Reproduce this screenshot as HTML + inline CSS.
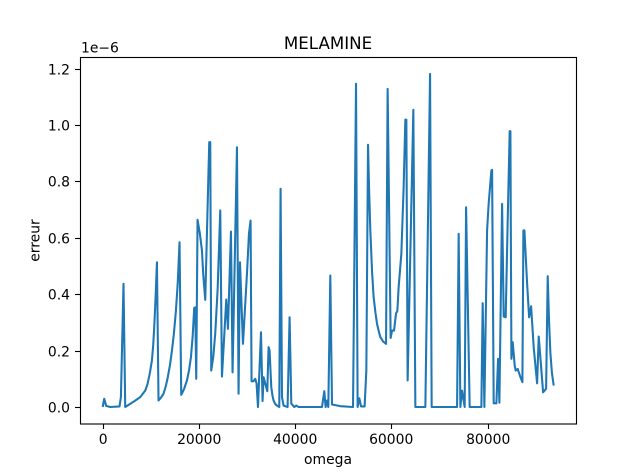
<!DOCTYPE html>
<html>
<head>
<meta charset="utf-8">
<style>
html,body{margin:0;padding:0;background:#fff;width:640px;height:476px;overflow:hidden}
svg{display:block}
text{font-family:"DejaVu Sans","Liberation Sans",sans-serif;fill:#000}
</style>
</head>
<body>
<svg id="chart" xmlns="http://www.w3.org/2000/svg" width="640" height="476" viewBox="0 0 640 476">
<rect x="0" y="0" width="640" height="476" fill="#fff"/>
<g id="ticks"></g>
<path id="line" fill="none" stroke="#1f77b4" stroke-width="2.08" stroke-linejoin="round" stroke-linecap="butt"/>
<rect x="80.5" y="57.5" width="496" height="366.5" fill="none" stroke="#000" stroke-width="1.11"/>
<text x="328" y="49" text-anchor="middle" style="font-size:16.67px">MELAMINE</text>
<text x="328" y="464" text-anchor="middle" style="font-size:13.9px">omega</text>
<text transform="translate(39.5,240.5) rotate(-90)" text-anchor="middle" style="font-size:13.9px">erreur</text>
<text x="81" y="52.5" style="font-size:13.9px">1e−6</text>
</svg>
<script>
var omega = [0,312,728,1560,3494,3786,4326,4680,
5500,6600,7800,8840,9300,9800,10234,10500,10712,11000,11274,
11606,12100,12646,13100,13478,14000,14394,14800,15226,15600,15974,
16328,16900,17514,17950,18346,18700,19032,19240,19448,19718,20200,20634,20900,21320,22152,22360,22568,23000,23400,23900,24440,24794,
25688,26042,26666,26998,27914,28246,28538,29162,29994,30410,30742,30950,31304,31720,31990,32282,32906,33238,33446,33800,34216,34486,34694,
35048,35300,35526,35900,36234,36712,
36982,37274,37606,38438,38854,39208,39832,40248,40726,45594,46072,46342,46634,46904,47320,47674,49400,52042,52666,52998,53352,53706,54454,54808,55162,
55400,55640,56000,56326,56700,57034,57400,57720,58300,58906,
59238,59862,60154,60570,60986,61256,61526,62088,62566,62920,63128,63398,64584,65000,67080,68058,68390,73674,74006,74360,74714,75254,75546,76294,78728,78998,79352,79914,80246,80808,80954,81286,81848,82202,82472,83034,83366,83782,84198,84614,84760,84968,85238,85654,85862,86278,86840,87256,87464,87672,88234,88650,89066,89606,90314,90646,91562,92186,92518,92800,93080,93400,93766];
var erreur = [0,0.029,0.004,0,0.002,0.035,0.437,0,
0.009,0.021,0.035,0.058,0.08,0.12,0.165,0.22,0.283,0.39,0.513,
0.023,0.033,0.047,0.073,0.101,0.15,0.2,0.26,0.342,0.44,0.584,
0.043,0.063,0.094,0.13,0.177,0.25,0.352,0.353,0.1,0.664,0.615,0.555,0.47,0.38,0.939,0.939,0.129,0.18,0.261,0.42,0.697,0.108,
0.381,0.277,0.622,0.123,0.921,0.047,0.513,0.224,0.473,0.615,0.661,0.091,0.091,0.1,0.083,0,0.265,0.021,0.106,0.083,0.056,0.212,0.2,
0.07,0.04,0.023,0.01,0.005,0,
0.774,0.035,0.005,0,0.318,0.012,0,0.005,0,0,0.056,0,0.023,0,0.466,0.009,0.003,0,1.146,0,0.031,0.002,0.002,0.129,0.93,
0.76,0.626,0.48,0.389,0.335,0.295,0.268,0.248,0.232,0.224,
1.128,0.245,0.271,0.271,0.332,0.34,0.425,0.543,0.779,1.019,1.019,0.094,1.054,0,0,1.181,0,0,0.614,0,0.058,0,0.708,0,0,0.368,0,0.626,0.722,0.839,0.841,0.013,0.013,0.171,0.015,0.72,0.321,0.318,0.661,0.978,0.978,0.171,0.23,0.147,0.129,0.135,0.106,0.088,0.626,0.626,0.438,0.318,0.357,0.212,0.084,0.25,0.052,0.065,0.464,0.3,0.19,0.12,0.076];
var xTicks = [0,20000,40000,60000,80000];
var yTicks = [0,0.2,0.4,0.6,0.8,1.0,1.2];

var NS = 'http://www.w3.org/2000/svg';
function xScale(v){ return 102.7 + v * 0.00481; }
function yScale(v){ return 407 - v * 282; }

var d = '';
for (var i = 0; i < omega.length; i++) {
  d += (i ? 'L' : 'M') + xScale(omega[i]).toFixed(2) + ' ' + yScale(erreur[i]).toFixed(2);
}
document.getElementById('line').setAttribute('d', d);

var ticks = document.getElementById('ticks');
xTicks.forEach(function(t){
  var x = Math.round(xScale(t)) + 0.5;
  var l = document.createElementNS(NS, 'line');
  
  
  l.setAttribute('x1', x); l.setAttribute('x2', x);
  l.setAttribute('y1', 424); l.setAttribute('y2', 429);
  l.setAttribute('stroke', '#000'); l.setAttribute('stroke-width', '1.11');
  ticks.appendChild(l);
  var s = document.createElementNS(NS, 'text');
  
  
  s.setAttribute('x', x - 0.3); s.setAttribute('y', 444);
  s.setAttribute('text-anchor', 'middle');
  s.style.fontSize = '13.9px';
  s.textContent = String(t);
  ticks.appendChild(s);
});
yTicks.forEach(function(t){
  var y = Math.round(yScale(t)) + 0.5;
  var l = document.createElementNS(NS, 'line');
  
  
  l.setAttribute('x1', 75); l.setAttribute('x2', 80);
  l.setAttribute('y1', y); l.setAttribute('y2', y);
  l.setAttribute('stroke', '#000'); l.setAttribute('stroke-width', '1.11');
  ticks.appendChild(l);
  var s = document.createElementNS(NS, 'text');
  
  
  s.setAttribute('x', 70); s.setAttribute('y', y + 5);
  s.setAttribute('text-anchor', 'end');
  s.style.fontSize = '13.9px';
  s.textContent = t.toFixed(1);
  ticks.appendChild(s);
});
</script>
</body>
</html>
